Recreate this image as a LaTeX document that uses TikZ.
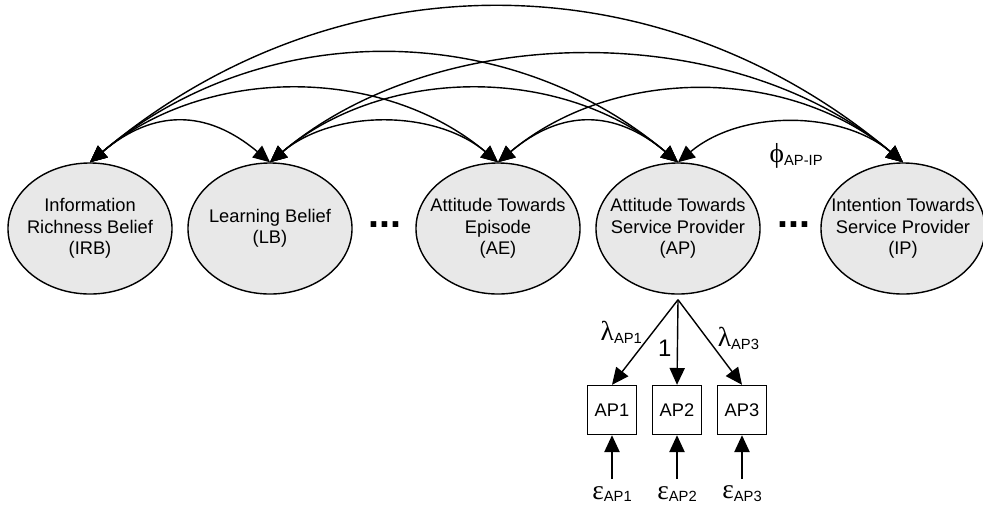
\documentclass[tikz,border=0pt]{standalone}
\usepackage{fontspec}
\setmainfont{Liberation Sans}
\newfontfamily\greekfont{Liberation Serif}
\usetikzlibrary{arrows.meta,shapes.geometric}

\definecolor{latentfill}{HTML}{E8E8E8}

\newcommand{\coef}[2]{{\greekfont\fontsize{19.5}{19}\selectfont #1}\raisebox{-2pt}{\fontsize{10.5}{11}\selectfont #2}}

\tikzset{
  latent/.style={ellipse, draw, fill=latentfill, line width=1pt,
    minimum width=4.1cm, minimum height=3.275cm, inner xsep=-0.45cm, inner ysep=0pt, align=center},
  indicator/.style={rectangle, draw, line width=1pt, minimum size=1.225cm, inner sep=0pt},
  cov/.style={<->, line width=1pt, bend left=40},
  load/.style={->, line width=1pt},
  errlabel/.style={inner sep=1pt, outer sep=4pt},
  dots/.style={font=\fontsize{28}{30}\selectfont\bfseries, inner sep=0pt}
}

\begin{document}
\begin{tikzpicture}[x=0.025cm, y=-0.025cm, >={Triangle[length=0.42cm,width=0.38cm]},
    font=\fontsize{13}{15.3}\selectfont]
    \useasboundingbox (0,0) rectangle (983,508);

    \node[latent] (IRB) at (90,228.5) {Information\\Richness Belief\\(IRB)};
    \node[latent] (LB) at (270,228.5) {Learning Belief\\(LB)};
    \node[latent] (AE) at (498,228.5) {Attitude Towards\\Episode\\(AE)};
    \node[latent] (AP) at (678,228.5) {Attitude Towards\\Service Provider\\(AP)};
    \node[latent] (IP) at (903,228.5) {Intention Towards\\Service Provider\\(IP)};

    \node[dots] (dotsA) at (385,225) {...};
    \node[dots] (dotsB) at (794,225) {...};

    % covariances between the factors
    \draw[cov, looseness=1.18] (IRB.north) to (LB.north);
    \draw[cov, looseness=0.95] (IRB.north) to (AE.north);
    \draw[cov, looseness=0.98] (IRB.north) to (AP.north);
    \draw[cov, looseness=1.01] (IRB.north) to (IP.north);
    \draw[cov, looseness=0.93] (LB.north) to (AE.north);
    \draw[cov, looseness=0.95] (LB.north) to (AP.north);
    \draw[cov, looseness=0.90] (LB.north) to (IP.north);
    \draw[cov, looseness=1.18] (AE.north) to (AP.north);
    \draw[cov, looseness=0.95] (AE.north) to (IP.north);
    \draw[cov, looseness=0.93] (AP.north) to node[below=11pt, xshift=4pt] {\coef{ϕ}{AP-IP}} (IP.north);

    % indicators of AP
    \node[indicator] (AP1) at (612,410) {AP1};
    \node[indicator] (AP2) at (677,410) {AP2};
    \node[indicator] (AP3) at (742,410) {AP3};
    \coordinate (APfoot) at ([yshift=-0.125cm]AP.south);

    \draw[load] (APfoot) -- node[pos=0.38, left=4pt] {\coef{λ}{AP1}} (AP1.north);
    \draw[load] (APfoot) -- node[pos=0.57, left=0.5pt, font=\fontsize{17}{17}\selectfont] {1} (AP2.north);
    \draw[load] (APfoot) -- node[pos=0.45, right=4pt] {\coef{λ}{AP3}} (AP3.north);

    % error terms
    \node[errlabel] (eps1) at (612,494) {\coef{ε}{AP1}};
    \node[errlabel] (eps2) at (677,494) {\coef{ε}{AP2}};
    \node[errlabel] (eps3) at (742,494) {\coef{ε}{AP3}};
    \draw[load] (eps1) -- (AP1);
    \draw[load] (eps2) -- (AP2);
    \draw[load] (eps3) -- (AP3);
\end{tikzpicture}
\end{document}
